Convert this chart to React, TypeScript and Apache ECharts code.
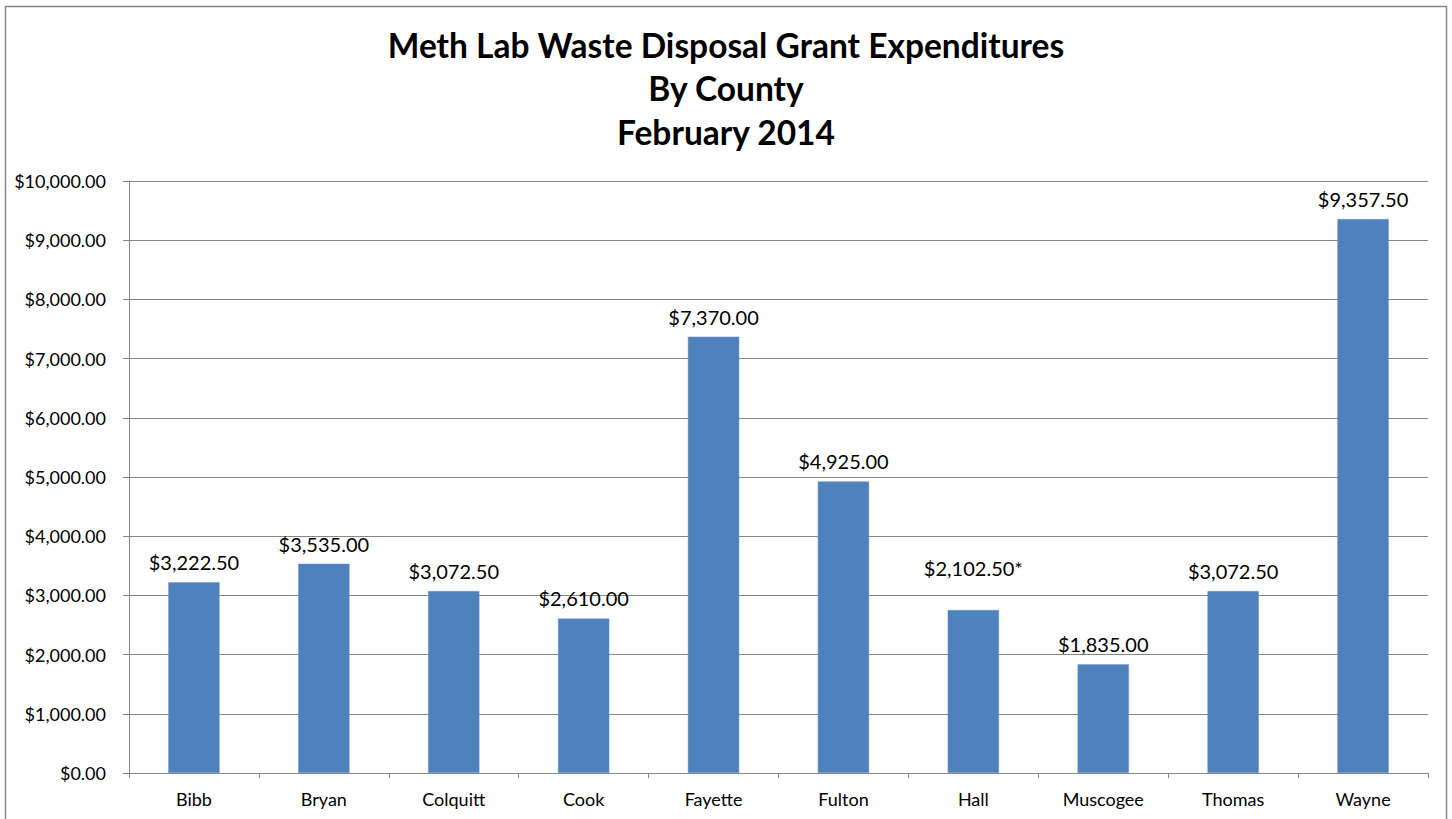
import React, { useEffect, useRef } from "react";
import * as echarts from "echarts";

const counties = ["Bibb", "Bryan", "Colquitt", "Cook", "Fayette", "Fulton", "Hall", "Muscogee", "Thomas", "Wayne"];
const expenditures = [3222.5, 3535, 3072.5, 2610, 7370, 4925, 2752.5, 1835, 3072.5, 9357.5];
const dataLabels = ["$3,222.50", "$3,535.00", "$3,072.50", "$2,610.00", "$7,370.00", "$4,925.00", "$2,102.50*", "$1,835.00", "$3,072.50", "$9,357.50"];
const titleLines = ["Meth Lab Waste Disposal Grant Expenditures", "By County", "February 2014"];

const FONT = "Lato, 'Open Sans', 'Liberation Sans', sans-serif";

export default function App() {
  const ref = useRef<HTMLDivElement>(null);
  useEffect(() => {
    if (!ref.current) return;
    const chart = echarts.init(ref.current, undefined, { renderer: "svg" });
    const fmt = (v: number) => "$" + v.toLocaleString("en-US", { minimumFractionDigits: 2, maximumFractionDigits: 2 });
    chart.setOption({
      animation: false,
      backgroundColor: "#ffffff",
      title: {
        text: titleLines.join("\n"),
        left: "center",
        top: 18,
        textStyle: { fontFamily: FONT, fontSize: 33.5, fontWeight: "bold", color: "#000", lineHeight: 43.5 },
      },
      graphic: [
        {
          type: "rect",
          shape: { x: 5.5, y: 6.5, width: 1441, height: 840 },
          style: { fill: "none", stroke: "#888888", lineWidth: 1.5 },
          silent: true,
        },
      ],
      grid: { left: 129, right: 24, top: 181, bottom: 46 },
      xAxis: {
        type: "category",
        data: counties,
        axisLine: { lineStyle: { color: "#868686", width: 1 } },
        axisTick: { show: true, length: 5, lineStyle: { color: "#868686" } },
        axisLabel: { fontFamily: FONT, fontSize: 18, color: "#000", margin: 17 },
      },
      yAxis: {
        type: "value",
        min: 0,
        max: 10000,
        interval: 1000,
        axisLine: { show: true, lineStyle: { color: "#868686" } },
        axisTick: { show: true, length: 6, lineStyle: { color: "#868686" } },
        splitLine: { lineStyle: { color: "#868686", width: 1 } },
        axisLabel: { fontFamily: FONT, fontSize: 18, color: "#000", margin: 23, formatter: fmt },
      },
      series: [
        {
          type: "bar",
          barWidth: "39.5%",
          itemStyle: { color: "#4F81BD", borderColor: "#6f96c8", borderWidth: 0.5 },
          data: expenditures.map((v, i) => ({
            value: v,
            label: i === 6 ? { offset: [0, -22] } : undefined,
          })),
          label: {
            show: true,
            position: "top",
            distance: 10,
            fontFamily: FONT,
            fontSize: 20,
            color: "#000",
            formatter: (p: any) => dataLabels[p.dataIndex],
          },
        },
      ],
    });
    return () => chart.dispose();
  }, []);
  return <div ref={ref} style={{ position: "absolute", left: 0, top: 0, width: 1452, height: 819 }} />;
}
